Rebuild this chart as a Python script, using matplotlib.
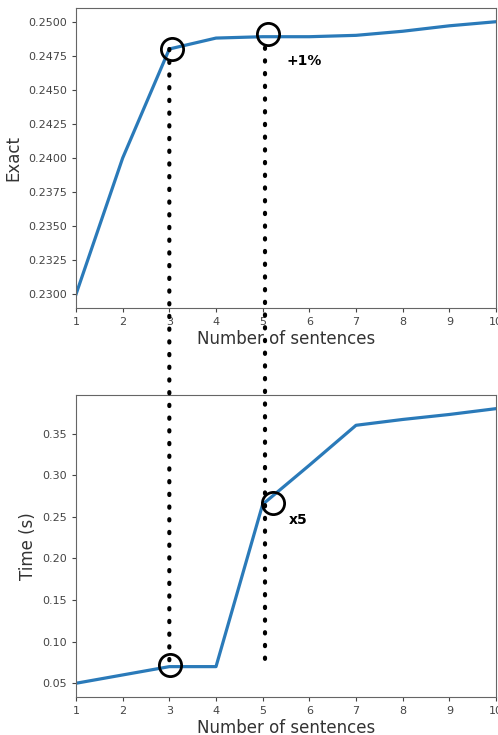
import matplotlib
matplotlib.use("Agg")
import matplotlib.pyplot as plt
from matplotlib.patches import ConnectionPatch

sentences = [1, 2, 3, 4, 5, 6, 7, 8, 9, 10]
exact = [0.2300, 0.2400, 0.2480, 0.2488, 0.2489, 0.2489, 0.2490, 0.2493, 0.2497, 0.2500]
time_s = [0.050, 0.060, 0.070, 0.070, 0.265, 0.312, 0.360, 0.367, 0.373, 0.380]

# circled points (x, y) and where the dotted guides start/stop
circles_top = [(3.06, 0.2480), (5.11, 0.2491)]
circles_bot = [(3.01, 0.0720), (5.22, 0.2670)]
guides = [(3.0, 0.2480, 0.0720), (5.05, 0.2481, 0.0745)]

fig = plt.figure(figsize=(4.98, 7.35), dpi=100)
ax1 = fig.add_axes([0.1526, 0.581, 0.8434, 0.408])
ax2 = fig.add_axes([0.1526, 0.0517, 0.8434, 0.411])

for ax, ys, lab in [(ax1, exact, "Exact"), (ax2, time_s, "Time (s)")]:
    ax.plot(sentences, ys, color="#2a7ab9", lw=2.3)
    ax.set_xlim(1, 10)
    ax.set_xticks(range(1, 11))
    ax.set_xlabel("Number of sentences", fontsize=12, color="#333333", labelpad=2)
    ax.set_ylabel(lab, fontsize=12, color="#333333")
    ax.tick_params(labelsize=8, colors="#444444", length=3)
    for s in ax.spines.values():
        s.set_color("#666666")

ax1.set_yticks([0.2300, 0.2325, 0.2350, 0.2375, 0.2400, 0.2425, 0.2450, 0.2475, 0.2500])
ax1.set_yticklabels(["%.4f" % v for v in ax1.get_yticks()])
ax1.set_ylim(0.229, 0.251)
ax2.set_yticks([0.05, 0.10, 0.15, 0.20, 0.25, 0.30, 0.35])
ax2.set_yticklabels(["%.2f" % v for v in ax2.get_yticks()])
ax2.set_ylim(0.0335, 0.3965)

for x, y0, y1 in guides:
    con = ConnectionPatch(xyA=(x, y0), coordsA="data", axesA=ax1,
                          xyB=(x, y1), coordsB="data", axesB=ax2,
                          color="black", lw=3, linestyle=(0, (0.3, 2.75)),
                          capstyle="round", zorder=5)
    fig.add_artist(con)

for ax, pts in [(ax1, circles_top), (ax2, circles_bot)]:
    for x, y in pts:
        ax.plot(x, y, "o", ms=16, mfc="none", mec="black", mew=2, clip_on=False, zorder=6)

ax1.text(5.5, 0.2471, "+1%", fontsize=10, fontweight="bold", va="center")
ax2.text(5.57, 0.2463, "x5", fontsize=10, fontweight="bold", va="center")

fig.savefig("out.png", dpi=100)
